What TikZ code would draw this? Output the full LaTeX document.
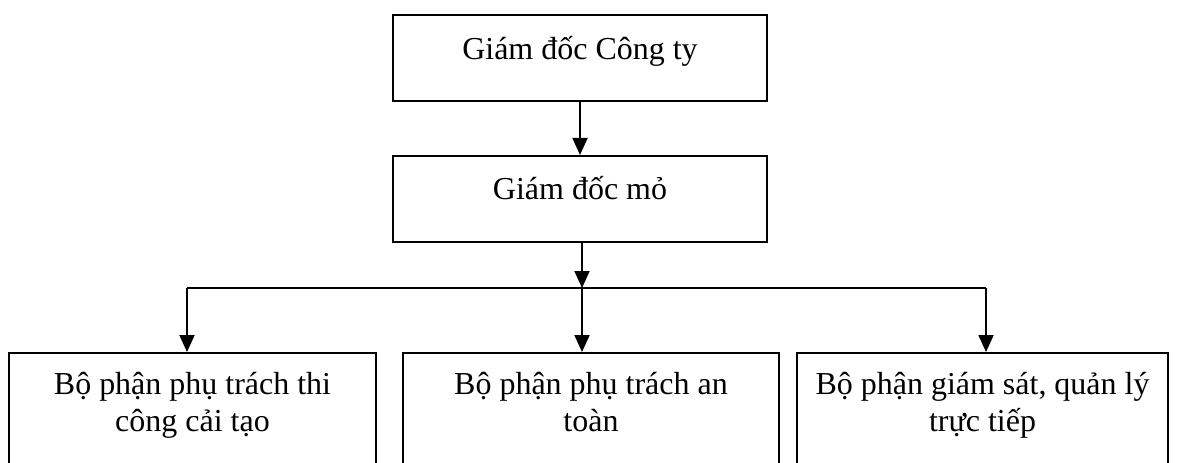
\documentclass[tikz,border=0pt]{standalone}
\usepackage{fontspec}
\setmainfont{Liberation Serif}
\usetikzlibrary{arrows.meta, positioning}

\tikzset{
	unit/.style={draw, line width=1.1pt, minimum width=#1, minimum height=1.72cm, inner sep=0pt},
	unittext/.style={anchor=base, yshift=#1, align=center, inner sep=0pt,
		font=\fontsize{18.2pt}{21pt}\selectfont},
	unittext/.default=-0.9cm,
	link/.style={line width=1.1pt, -{Triangle[length=0.34cm, width=0.3cm]}}
}

\begin{document}
\begin{tikzpicture}
			% Page frame, the lower boxes run off the bottom
			\useasboundingbox (0, 0) rectangle (23.68, -9.24);
			\clip (0, 0) rectangle (23.68, -9.24);
			
			% Draw the two director boxes
			\node[unit=7.48cm, label={[unittext]north:Giám đốc Công ty}] (ceo) at (11.6, -1.16) {};
			\node[unit=7.48cm, below=1.06cm of ceo, label={[unittext]north:Giám đốc mỏ}] (mine) {};
			
			% Draw the three departments (two text lines, base sits on the last one)
			\node[unit=7.34cm, minimum height=2.54cm,
				label={[unittext=-1.58cm]north:Bộ phận phụ trách thi\\công cải tạo}] (build) at (3.85, -8.33) {};
			\node[unit=7.52cm, minimum height=2.54cm,
				label={[unittext=-1.58cm]north:Bộ phận phụ trách an\\toàn}] (safety) at (11.82, -8.33) {};
			\node[unit=7.42cm, minimum height=2.54cm,
				label={[unittext=-1.58cm]north:Bộ phận giám sát, quản lý\\trực tiếp}] (watch) at (19.65, -8.33) {};
			
			% Branch line
			\coordinate (busL) at (3.74, -5.76);
			\coordinate (busM) at (11.64, -5.76);
			\coordinate (busR) at (19.72, -5.76);
			
			% Draw the arrows
			\draw[link] (ceo) -- (mine);
			\draw[link] (mine.south -| busM) -- (busM);
			\draw[line width=1.1pt] (busL) -- (busR);
			\draw[link] (busL) -- (busL |- build.north);
			\draw[link] (busM) -- (busM |- safety.north);
			\draw[link] (busR) -- (busR |- watch.north);
			
		\end{tikzpicture}
\end{document}
